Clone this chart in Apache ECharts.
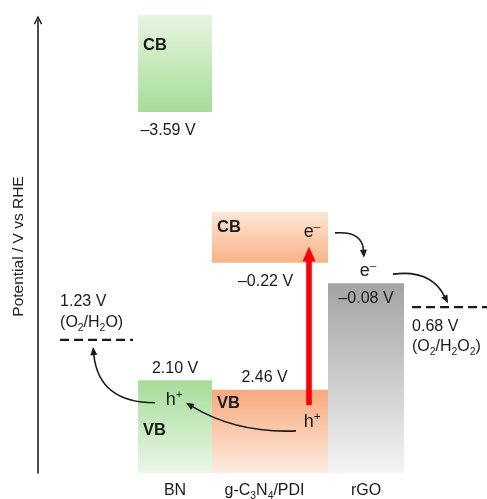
<!DOCTYPE html>
<html>
<head>
<meta charset="utf-8">
<script src="https://cdn.jsdelivr.net/npm/echarts@6/dist/echarts.min.js"></script>
<style>
  html, body { margin: 0; padding: 0; background: #fff; }
  #chart { width: 487px; height: 499px; }
</style>
</head>
<body>
<div id="chart"></div>
<script>
// The figure is a schematic: band edges are drawn on an arbitrary 0-100 height
// scale, the potentials are only printed as labels.
const materials = ['BN', 'g-C{s|3}N{s|4}/PDI', 'rGO'];
const cbTop = [101.1, 57.6, 41.9];
const cbEdge = [79.7, 46.4, 41.9];
const cbLabel = ['\u20133.59 V', '\u20130.22 V', '\u20130.08 V'];
const vbEdge = [20.5, 18.4, 0];
const vbLabel = ['2.10 V', '2.46 V', ''];

const redoxLabel = ['1.23 V', '0.68 V'];
const redoxCouple = ['(O{s|2}/H{s|2}O)', '(O{s|2}/H{s|2}O{s|2})'];
const redoxLevel = [29.4, 36.6];

// photo-generated carriers: text, x (column units), height
const carrierText = ['e{p|\u2013}', 'e{p|\u2013}', 'h{p|+}', 'h{p|+}'];
const carrierX = [2.435, 3.021, 0.99, 2.435];
const carrierLevel = [53.2, 44.6, 16.1, 11.3];

// charge transfer arrows [x, height] -> [x, height]
const arrowFrom = [[2.675, 53.0], [3.283, 43.9], [2.267, 9.3], [0.791, 15.5]];
const arrowTo = [[2.979, 47.5], [3.859, 37.5], [1.115, 15.5], [0.141, 27.8]];
const arrowBend = [0.5, 0.35, 0.15, 0.45];
// excitation VB -> CB of g-C3N4/PDI: x, from, to
const excitation = [2.403, 15.0, 50.0];

// layout (column extents in x units, label nudges in px)
const colSpan = [[0.613, 1.387], [1.387, 2.602], [2.602, 3.398]];
const redoxSpan = [[-0.204, 0.56], [3.482, 4.267]];
const cbLabelDx = [-7, -5, 0];
const vbLabelDx = [0, -6, 0];
const nameDx = [0, -6, 0];
const vbTagDy = [50, 14];

const FONT = '"Liberation Sans", Arial, Helvetica, sans-serif';
const INK = '#1a1a1a';
const bandFill = {
  cb: [['#e6f6e0', '#a6dc99'], ['#fde6d6', '#f8b287']],
  vb: [['#a6dc99', '#eaf7e5'], ['#f7a97b', '#fdece2']],
  rgo: ['#a3a3a3', '#f4f4f4']
};

function grad(c) {
  return new echarts.graphic.LinearGradient(0, 0, 0, 1, [
    { offset: 0, color: c[0] }, { offset: 1, color: c[1] }
  ]);
}

function richStyles(size) {
  return {
    n: { fontSize: size, fontFamily: FONT, fill: INK, lineHeight: size * 1.25 },
    s: { fontSize: size * 0.65, fontFamily: FONT, fill: INK, verticalAlign: 'bottom', lineHeight: size * 0.65 },
    p: { fontSize: size * 0.65, fontFamily: FONT, fill: INK, verticalAlign: 'top', lineHeight: size * 0.65 }
  };
}

function label(x, y, text, size, extra) {
  size = size || 16;
  // wrap plain runs so rich tokens share one line height
  const t = text.indexOf('{') >= 0 ? text.replace(/(^|\})([^{}]+)(?=\{|$)/g, '$1{n|$2}') : text;
  return {
    type: 'text',
    style: Object.assign({
      x: x, y: y, text: t,
      fontSize: size, fontFamily: FONT, fill: INK,
      align: 'center', verticalAlign: 'middle',
      rich: richStyles(size)
    }, extra || {})
  };
}

function box(x, y, w, h, colors) {
  return { type: 'rect', shape: { x: x, y: y, width: w, height: h }, style: { fill: grad(colors) } };
}

function renderBand(params, api) {
  const i = params.dataIndex;
  const xl = api.coord([colSpan[i][0], 0])[0];
  const xr = api.coord([colSpan[i][1], 0])[0];
  const xc = api.coord([i + 1, 0])[0];
  const y0 = api.coord([0, 0])[1];
  const yTop = api.coord([0, cbTop[i]])[1];
  const yCb = api.coord([0, cbEdge[i]])[1];
  const children = [];
  if (i === 2) {
    // rGO: one block under its Fermi level
    children.push(box(xl, yCb, xr - xl, y0 - yCb, bandFill.rgo));
    children.push(label(xc, yCb + 15, cbLabel[i]));
  } else {
    const yVb = api.coord([0, vbEdge[i]])[1];
    children.push(box(xl, yTop, xr - xl, yCb - yTop, bandFill.cb[i]));
    children.push(box(xl, yVb, xr - xl, y0 - yVb, bandFill.vb[i]));
    children.push(label(xl + 5, yTop + 0.31 * (yCb - yTop), 'CB', 16.5, { align: 'left', fontWeight: 'bold' }));
    children.push(label(xl + 5, yVb + vbTagDy[i], 'VB', 16.5, { align: 'left', fontWeight: 'bold' }));
    children.push(label(xc + cbLabelDx[i], yCb + 19, cbLabel[i]));
    children.push(label(xc + vbLabelDx[i], yVb - 12, vbLabel[i]));
  }
  children.push(label(xc + nameDx[i], y0 + 18, materials[i]));
  return { type: 'group', children: children };
}

function renderRedox(params, api) {
  const i = params.dataIndex;
  const y = api.coord([0, redoxLevel[i]])[1];
  const xl = api.coord([redoxSpan[i][0], 0])[0];
  const xr = api.coord([redoxSpan[i][1], 0])[0];
  const above = i === 0;
  return {
    type: 'group',
    children: [
      { type: 'line', shape: { x1: xl, y1: y, x2: xr, y2: y },
        style: { stroke: INK, lineWidth: 2.2, lineDash: [9, 5] } },
      label(xl, y + (above ? -38 : 19.5), redoxLabel[i], 16, { align: 'left' }),
      label(xl, y + (above ? -17 : 39.5), redoxCouple[i], 16, { align: 'left' })
    ]
  };
}

function renderCarrier(params, api) {
  const i = params.dataIndex;
  const p = api.coord([carrierX[i], carrierLevel[i]]);
  return label(p[0], p[1], carrierText[i], 18);
}

function renderTransfer(params, api) {
  const i = params.dataIndex;
  const a = api.coord(arrowFrom[i]);
  const b = api.coord(arrowTo[i]);
  const c = arrowBend[i];
  const cp = [(a[0] + b[0]) / 2 - (a[1] - b[1]) * c, (a[1] + b[1]) / 2 - (b[0] - a[0]) * c];
  let ux = b[0] - cp[0], uy = b[1] - cp[1];
  const len = Math.sqrt(ux * ux + uy * uy);
  ux /= len; uy /= len;
  const head = 8, half = 3.5;
  const base = [b[0] - ux * head, b[1] - uy * head];
  return {
    type: 'group',
    children: [
      { type: 'bezierCurve',
        shape: { x1: a[0], y1: a[1], x2: base[0], y2: base[1], cpx1: cp[0], cpy1: cp[1] },
        style: { stroke: INK, lineWidth: 1.6, fill: null } },
      { type: 'polygon',
        shape: { points: [b, [base[0] - uy * half, base[1] + ux * half], [base[0] + uy * half, base[1] - ux * half]] },
        style: { fill: INK } }
    ]
  };
}

function renderExcitation(params, api) {
  const bottom = api.coord([excitation[0], excitation[1]]);
  const tip = api.coord([excitation[0], excitation[2]]);
  const head = 15, half = 6.5;
  return {
    type: 'group',
    children: [
      { type: 'rect', shape: { x: bottom[0] - 2.8, y: tip[1] + head - 1, width: 5.6, height: bottom[1] - tip[1] - head + 1 },
        style: { fill: '#ff0000' } },
      { type: 'polygon', shape: { points: [tip, [tip[0] - half, tip[1] + head], [tip[0] + half, tip[1] + head]] },
        style: { fill: '#ff0000' } }
    ]
  };
}

const chart = echarts.init(document.getElementById('chart'));

chart.setOption({
  animation: false,
  backgroundColor: '#ffffff',
  grid: { left: 38, right: 0, top: 20, bottom: 26, containLabel: false },
  xAxis: { type: 'value', min: -0.435, max: 4.267, show: false },
  yAxis: {
    type: 'value',
    min: 0,
    max: 100,
    name: 'Potential / V vs RHE',
    nameLocation: 'middle',
    nameGap: 11,
    nameTextStyle: { fontSize: 15.5, fontFamily: FONT, color: '#222' },
    axisLine: {
      show: true,
      onZero: false,
      symbol: ['none', 'path://M0,10 L5,0 L10,10 L8.6,10.8 L5,3.2 L1.4,10.8 Z'],
      symbolSize: [9, 9],
      lineStyle: { color: '#111', width: 1.5 }
    },
    axisTick: { show: false },
    axisLabel: { show: false },
    splitLine: { show: false }
  },
  series: [
    { type: 'custom', name: 'bands', renderItem: renderBand,
      data: materials.map((m, i) => [i + 1, 0]) },
    { type: 'custom', name: 'redox', renderItem: renderRedox,
      data: redoxLevel.map((v) => [0, v]) },
    { type: 'custom', name: 'transfer', renderItem: renderTransfer,
      data: arrowFrom.map((p) => p.slice()) },
    { type: 'custom', name: 'excitation', renderItem: renderExcitation,
      data: [[excitation[0], excitation[1]]] },
    { type: 'custom', name: 'carriers', renderItem: renderCarrier,
      data: carrierX.map((x, i) => [x, carrierLevel[i]]) }
  ]
});
</script>
</body>
</html>
